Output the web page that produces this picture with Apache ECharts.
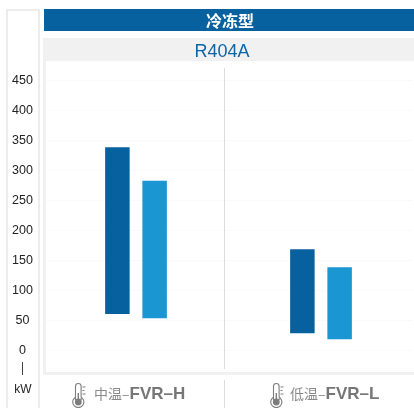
<!DOCTYPE html>
<html><head><meta charset="utf-8">
<style>html,body{margin:0;padding:0;background:#fff}#c{width:414px;height:408px}</style>
<script src="https://cdn.jsdelivr.net/npm/echarts@6/dist/echarts.min.js"></script>
</head><body><div id="c"></div>
<script>
const categories = ['中温–FVR–H', '低温–FVR–L'];
const prefixes = ['中温–', '低温–'];
const models = ['FVR–H', 'FVR–L'];
const darkLow = [60, 28];
const darkHigh = [338, 168];
const lightLow = [53, 18];
const lightHigh = [282, 138];
const sectionTitle = '冷冻型';
const refrigerant = 'R404A';

const DARK = '#07619f', LIGHT = '#1a97d3', GREY = '#7c7c7c';
const chart = echarts.init(document.getElementById('c'), null, {renderer: 'canvas'});

function thermo(x) {
  return {
    type: 'group', x: x, y: 383, z: 6, children: [
      {type: 'circle', z: 6, shape: {cx: 6.3, cy: 19, r: 5.6}, style: {fill: '#fff', stroke: GREY, lineWidth: 1.1}},
      {type: 'rect', z: 7, shape: {x: 3.5, y: 0.5, width: 5.6, height: 16, r: [2.8, 2.8, 0, 0]}, style: {fill: '#fff', stroke: GREY, lineWidth: 1.1}},
      {type: 'rect', z: 8, shape: {x: 4.2, y: 13.5, width: 4.2, height: 3.5}, style: {fill: '#fff'}},
      {type: 'circle', z: 9, shape: {cx: 6.3, cy: 19, r: 3.4}, style: {fill: GREY}},
      {type: 'rect', z: 9, shape: {x: 5.6, y: 10, width: 1.4, height: 8}, style: {fill: GREY}},
      {type: 'rect', z: 9, shape: {x: 10.5, y: 3.5, width: 3, height: 1}, style: {fill: GREY}},
      {type: 'rect', z: 9, shape: {x: 10.5, y: 7, width: 2, height: 1}, style: {fill: GREY}},
      {type: 'rect', z: 9, shape: {x: 10.5, y: 10.5, width: 3, height: 1}, style: {fill: GREY}}
    ]
  };
}
function catLabel(i, x) {
  return {
    type: 'text', x: x, y: 394, z: 6,
    style: {
      text: '{a|' + prefixes[i] + '}{b|' + models[i] + '}',
      verticalAlign: 'middle', align: 'left',
      rich: {
        a: {font: '14px "Noto Sans CJK SC"', fill: '#8a8a8a'},
        b: {font: 'bold 17px "Liberation Sans"', fill: '#767676'}
      }
    }
  };
}

chart.setOption({
  animation: false,
  backgroundColor: '#fff',
  grid: {left: 43.5, right: 0.5, top: 80, bottom: 58},
  xAxis: {
    type: 'category', data: categories,
    axisLine: {show: false}, axisTick: {show: false}, axisLabel: {show: false}, splitLine: {show: false}
  },
  yAxis: {
    type: 'value', min: 0, max: 450, interval: 50,
    axisLine: {show: false}, axisTick: {show: false},
    axisLabel: {color: '#222', fontFamily: 'Liberation Sans', fontSize: 12.5, align: 'center', verticalAlign: 'top', lineHeight: 2, margin: 21},
    splitLine: {lineStyle: {color: '#f5f5f5', type: 'dotted', width: 1}}
  },
  series: [
    {type: 'bar', stack: 'dark', data: darkLow, barWidth: 24.5, barGap: '52%', itemStyle: {color: 'transparent'}, silent: true},
    {type: 'bar', stack: 'dark', data: darkHigh.map((v, i) => v - darkLow[i]), itemStyle: {color: DARK}},
    {type: 'bar', stack: 'light', data: lightLow, barWidth: 24.5, itemStyle: {color: 'transparent'}, silent: true},
    {type: 'bar', stack: 'light', data: lightHigh.map((v, i) => v - lightLow[i]), itemStyle: {color: LIGHT}}
  ],
  graphic: [
    {type: 'rect', z: 5, shape: {x: 7, y: 10, width: 32, height: 400}, style: {fill: 'none', stroke: '#e8e8e8', lineWidth: 1.6}},
    {type: 'rect', z: 5, shape: {x: 44, y: 9, width: 370, height: 22}, style: {fill: DARK}},
    {type: 'text', z: 6, x: 230, y: 21, style: {text: sectionTitle, font: 'bold 16px "Noto Sans CJK SC"', fill: '#fff', align: 'center', verticalAlign: 'middle', lineHeight: 16}},
    {type: 'rect', z: 5, shape: {x: 43, y: 38, width: 371, height: 23}, style: {fill: '#f1f1f1'}},
    {type: 'rect', z: 5, shape: {x: 43, y: 38, width: 3, height: 337}, style: {fill: '#f1f1f1'}},
    {type: 'rect', z: 5, shape: {x: 43, y: 372, width: 371, height: 3}, style: {fill: '#f1f1f1'}},
    {type: 'text', z: 6, x: 222, y: 52, style: {text: refrigerant, font: '18px "Liberation Sans"', fill: '#0d64a6', align: 'center', verticalAlign: 'middle'}},
    {type: 'rect', z: 5, shape: {x: 224, y: 68, width: 1, height: 301}, style: {fill: '#dcdcdc'}},
    {type: 'rect', z: 5, shape: {x: 224, y: 380, width: 1, height: 28}, style: {fill: '#dcdcdc'}},
    {type: 'rect', z: 5, shape: {x: 22, y: 362, width: 1, height: 13}, style: {fill: '#444'}},
    {type: 'text', z: 6, x: 23, y: 390, style: {text: 'kW', font: '12px "Liberation Sans"', fill: '#222', align: 'center', verticalAlign: 'middle'}},
    thermo(72), thermo(270),
    catLabel(0, 94), catLabel(1, 290)
  ]
});
</script></body></html>
